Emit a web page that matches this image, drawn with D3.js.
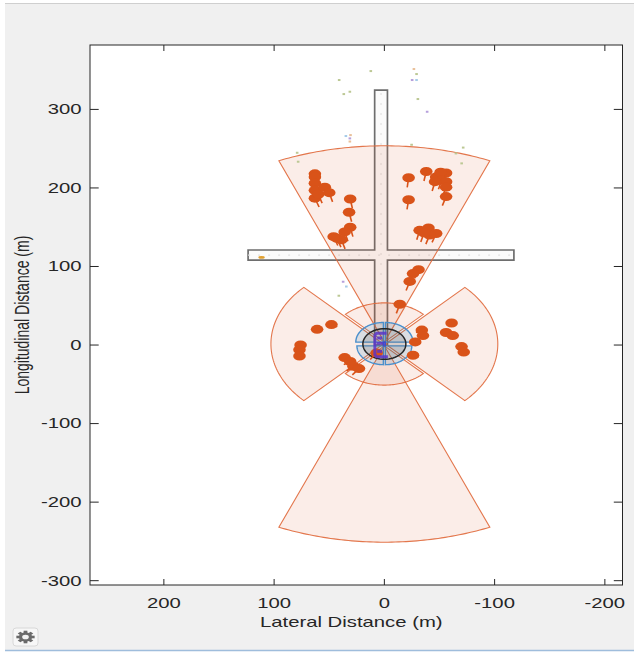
<!DOCTYPE html>
<html><head><meta charset="utf-8">
<script src="https://cdn.jsdelivr.net/npm/d3@7"></script>
<style>body{margin:0;background:#fff;} svg{display:block}</style>
</head><body><svg id="c" width="634" height="655"></svg>
<script>
// ---------- data ----------
const xTicks = [200, 100, 0, -100, -200];
const xTickLabels = ["200", "100", "0", "-100", "-200"];
const yTicks = [-300, -200, -100, 0, 100, 200, 300];
const yTickLabels = ["-300", "-200", "-100", "0", "100", "200", "300"];
const xDomain = [267, -216];
const yDomain = [-305.5, 382];
const xLabel = "Lateral Distance (m)";
const yLabel = "Longitudinal Distance (m)";

// road outline (lateral, longitudinal)
const roadOutline = [[8.8,0],[8.8,108.2],[123.6,108.2],[123.6,121],[8.8,121],[8.8,324.6],
  [-2.8,324.6],[-2.8,121],[-117.5,121],[-117.5,108.2],[-2.8,108.2],[-2.8,0]];
const laneCenters = [[[3,0],[3,324.6]], [[123.6,114.6],[-117.5,114.6]]];

// radar coverage: [lat, lon, yaw(deg), fov(deg), range]
const radarSectors = [
  [0, 3.7, 0, 45, 250],
  [0, -1, 180, 45, 250],
  [0.9, 1.35, 90, 90, 102],
  [-0.9, 1.35, -90, 90, 102],
  [0, 3.7, 0, 90, 50],
  [0, -1, 180, 90, 50]
];
// vision coverage
const visionSectors = [
  [0.9, 3.7, 45, 90, 25],
  [-0.9, 3.7, -45, 90, 25],
  [0.9, -1, 135, 90, 24],
  [-0.9, -1, -135, 90, 24]
];
const lidarCoverage = [0, 1.3, 19.5];

// radar detections (lat, lon)
const radarDetections = [
  [63,218],[63,214],[63,206],[63,197],[63,187],[60,192],[54,201],[50,194],
  [31,186],[32,169],[31,150],[36,144],[43,136],[39,134],[46,138],
  [-22,213],[-38,221],[-47,214],[-56,219],[-51,220],[-52,210],[-56,208],[-46,208],[-56,201],[-56,189],[-22,185],
  [-32,146],[-40,149],[-47,142],[-41,140],[-36,143],
  [-31,96],[-26,91],[-23,81],[-14,52],
  [61,20],[48,26],[76,0],[77,-6],[77,-14],
  [36,-16],[31,-21],[28,-27],[23,-30],[7,-10],
  [-34,19],[-35,12],[-28,4],[-26,-13],
  [-61,28],[-56,16],[-62,12],[-70,-2],[-72,-9]
];
const egoSpeed = 12.5;

// small scattered points: lat, lon, colour group
const smallPoints = [
  [12.3,348.8,"g"],[41,337.4,"g"],[31.3,322.5,"g"],[36.8,319.5,"g"],[-26.8,351.4,"o"],
  [-29.2,345,"g"],[-25.2,337.4,"p"],[-29.2,337.4,"b"],[-30.4,313.2,"g"],[-38.8,297,"p"],
  [30.7,267.3,"o"],[34.9,266.1,"b"],[31.3,263.1,"p"],[31.3,259.1,"o"],[-24.7,255,"g"],
  [-71.5,251.4,"g"],[-64.9,244,"g"],[79.1,244.8,"g"],[78.2,233.4,"g"],[-70.1,231.3,"g"],
  [37.4,80.6,"p"],[34.5,74.5,"b"],[41.3,62.8,"g"]
];
const smallColors = {g:"#bcc894", o:"#e9c09a", p:"#b6a0dc", b:"#a6cbe8"};
const trackPoints = [[111.4,111.6]];

// vision (purple) detections as polylines
const visionLines = [
  [[-2,14.9],[7,14.9],[8.6,12.5],[8.6,-12.5],[7,-14.9],[-3.2,-14.9]],
  [[7,2.2],[-1,2.2]],
  [[6.5,9],[2,9]],
  [[6.5,-8],[2,-8]]
];
const egoBox = [[0.9,3.7],[-0.9,3.7],[-0.9,-1],[0.9,-1]];

// ---------- drawing ----------
const W = 634, H = 655;
const L = 90, R = 622.5, T = 45, B = 585;
const SX = 1.45; // horizontal stretch of the picture
const svg = d3.select("#c");
const x = d3.scaleLinear().domain(xDomain).range([L, R]);
const y = d3.scaleLinear().domain(yDomain).range([B, T]);
const line = d3.line().x(d => x(d[0])).y(d => y(d[1]));
const font = "'Liberation Sans', Arial, Helvetica, sans-serif";
const ink = "#262626";

// figure background
svg.append("rect").attr("x",5).attr("y",4).attr("width",W-5).attr("height",646).attr("fill","#f0f0f0");
svg.append("line").attr("x1",5).attr("x2",W).attr("y1",3.5).attr("y2",3.5).attr("stroke","#cfcfcf").attr("stroke-width",1.2);
svg.append("line").attr("x1",5).attr("x2",W).attr("y1",650.5).attr("y2",650.5).attr("stroke","#9fbddc").attr("stroke-width",1.5);

// axes area
svg.append("rect").attr("x",L).attr("y",T).attr("width",R-L).attr("height",B-T).attr("fill","#fff");
svg.append("clipPath").attr("id","clip").append("rect").attr("x",L).attr("y",T).attr("width",R-L).attr("height",B-T);
const g = svg.append("g").attr("clip-path","url(#clip)");

// roads
g.append("path").attr("d", line(roadOutline) + "Z").attr("fill","#fbfbfb")
  .attr("stroke","#6e6e6e").attr("stroke-width",1.7);
laneCenters.forEach(lc => g.append("path").attr("d", line(lc)).attr("fill","none")
  .attr("stroke","#e2e2e2").attr("stroke-width",1.2).attr("stroke-dasharray","2,8"));

function sectorPts(s) {
  const [lat0, lon0, yaw, fov, r] = s;
  const pts = [[lat0, lon0]];
  const n = 60;
  for (let i = 0; i <= n; i++) {
    const a = (yaw - fov/2 + fov*i/n) * Math.PI/180;
    pts.push([lat0 + r*Math.sin(a), lon0 + r*Math.cos(a)]);
  }
  return pts;
}
radarSectors.forEach(s => g.append("path").attr("d", line(sectorPts(s)) + "Z")
  .attr("fill","#d95319").attr("fill-opacity",0.1)
  .attr("stroke","#e0683a").attr("stroke-opacity",0.9).attr("stroke-width",1.1));

visionSectors.forEach(s => g.append("path").attr("d", line(sectorPts(s)) + "Z")
  .attr("fill","#0072bd").attr("fill-opacity",0.13)
  .attr("stroke","#4a8fcc").attr("stroke-width",1.4));

// lidar coverage circle
{
  const [lat0, lon0, r] = lidarCoverage;
  const pts = d3.range(0, 361, 6).map(a => [lat0 + r*Math.sin(a*Math.PI/180), lon0 + r*Math.cos(a*Math.PI/180)]);
  g.append("path").attr("d", line(pts) + "Z").attr("fill","#555").attr("fill-opacity",0.2)
    .attr("stroke","#262626").attr("stroke-width",1.5);
}

// small points
g.selectAll("rect.sp").data(smallPoints).join("rect").attr("class","sp")
  .attr("x", d => x(d[0]) - 1.3).attr("y", d => y(d[1]) - 1).attr("width",2.6).attr("height",2)
  .attr("fill", d => smallColors[d[2]]);

// track marker
g.selectAll("ellipse.tr").data(trackPoints).join("ellipse").attr("class","tr")
  .attr("cx", d => x(d[0])).attr("cy", d => y(d[1])).attr("rx",3.2).attr("ry",1.3).attr("fill","#e0a030");

// radar detections: range-rate tails then markers
const tails = radarDetections.map(d => {
  const r = Math.hypot(d[0], d[1]);
  const k = -egoSpeed * (d[1] / r) / r;
  return [d, [d[0] + k*d[0], d[1] + k*d[1]]];
});
g.selectAll("path.tail").data(tails).join("path").attr("class","tail")
  .attr("d", d => line(d)).attr("stroke","#d95319").attr("stroke-width",1.6).attr("fill","none");
g.selectAll("ellipse.det").data(radarDetections).join("ellipse").attr("class","det")
  .attr("cx", d => x(d[0])).attr("cy", d => y(d[1])).attr("rx",6.3).attr("ry",4.5).attr("fill","#d95319");

// vision detections
visionLines.forEach(vl => g.append("path").attr("d", line(vl)).attr("fill","none")
  .attr("stroke","#5b35c8").attr("stroke-opacity",0.85).attr("stroke-width",3).attr("stroke-linejoin","round"));
g.append("path").attr("d", line(egoBox) + "Z").attr("fill","none").attr("stroke","#3a4ed0").attr("stroke-width",1.2);

// axes box and ticks
const ax = svg.append("g");
ax.append("rect").attr("x",L).attr("y",T).attr("width",R-L).attr("height",B-T)
  .attr("fill","none").attr("stroke",ink).attr("stroke-width",1);
const tl = 6;
xTicks.forEach(t => {
  ax.append("line").attr("x1",x(t)).attr("x2",x(t)).attr("y1",B).attr("y2",B-tl).attr("stroke",ink);
  ax.append("line").attr("x1",x(t)).attr("x2",x(t)).attr("y1",T).attr("y2",T+tl).attr("stroke",ink);
});
yTicks.forEach(t => {
  ax.append("line").attr("x1",L).attr("x2",L+tl*SX).attr("y1",y(t)).attr("y2",y(t)).attr("stroke",ink);
  ax.append("line").attr("x1",R).attr("x2",R-tl*SX).attr("y1",y(t)).attr("y2",y(t)).attr("stroke",ink);
});
const fs = 14;
xTicks.forEach((t,i) => ax.append("text").attr("transform",`translate(${x(t)},603) scale(${SX},1)`)
  .attr("text-anchor","middle").attr("dy","0.35em").attr("font-family",font).attr("font-size",fs)
  .attr("fill",ink).text(xTickLabels[i]));
yTicks.forEach((t,i) => ax.append("text").attr("transform",`translate(81.5,${y(t)}) scale(${SX},1)`)
  .attr("text-anchor","end").attr("dy","0.35em").attr("font-family",font).attr("font-size",fs)
  .attr("fill",ink).text(yTickLabels[i]));
ax.append("text").attr("transform",`translate(${(L+R)/2 - 5},622) scale(${SX},1)`)
  .attr("text-anchor","middle").attr("dy","0.35em").attr("font-family",font).attr("font-size",fs)
  .attr("fill",ink).text(xLabel);
ax.append("text").attr("transform",`translate(21.5,${(T+B)/2}) scale(${SX},1) rotate(-90)`)
  .attr("text-anchor","middle").attr("dy","0.35em").attr("font-family",font).attr("font-size",fs)
  .attr("fill",ink).text(yLabel);

// gear icon
const gear = svg.append("g").attr("transform","translate(25.5,637)");
gear.append("rect").attr("x",-12.5).attr("y",-9).attr("width",25).attr("height",18).attr("rx",3)
  .attr("fill","#f7f7f7").attr("stroke","#d8d8d8");
const gg = gear.append("g").attr("transform",`scale(${SX},1)`);
d3.range(8).forEach(i => gg.append("rect").attr("x",-1.3).attr("y",-6.3).attr("width",2.6).attr("height",3)
  .attr("fill","#6a6a6a").attr("transform",`rotate(${i*45})`));
gg.append("circle").attr("r",4.6).attr("fill","#6a6a6a");
gg.append("circle").attr("r",2.3).attr("fill","#f2f2f2");
</script></body></html>
